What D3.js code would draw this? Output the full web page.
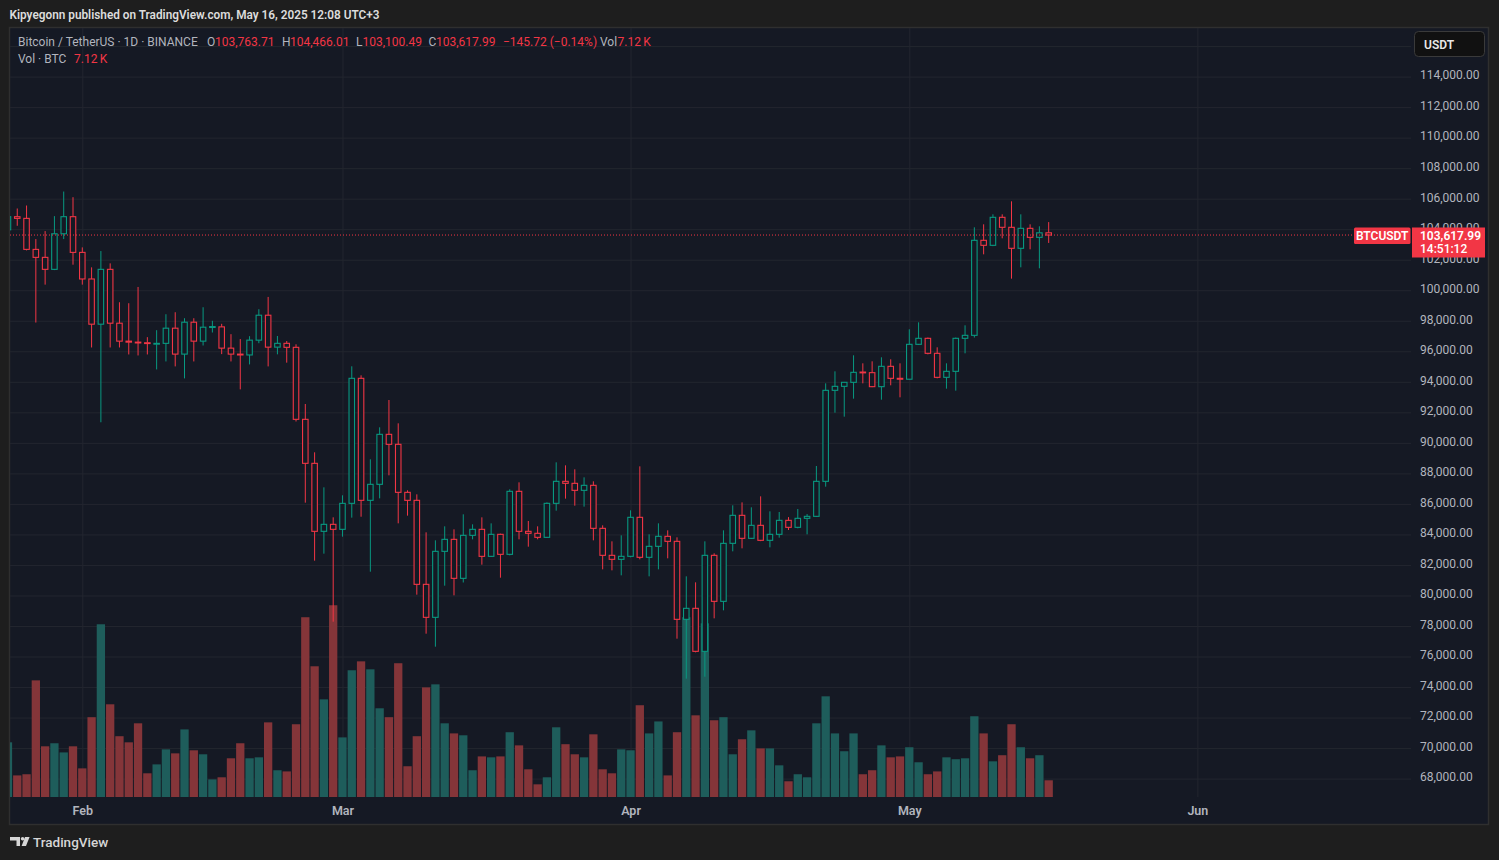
<!DOCTYPE html>
<html>
<head>
<meta charset="utf-8">
<title>BTCUSDT 1D</title>
<script src="https://cdnjs.cloudflare.com/ajax/libs/d3/7.8.5/d3.min.js"></script>
<style>
  html, body { margin: 0; padding: 0; background: #1e1e1e; overflow: hidden; }
  svg { display: block; font-family: Roboto, "Liberation Sans", sans-serif; }
</style>
</head>
<body>
<svg id="chart" width="1499" height="860"></svg>
<script>
// BINANCE BTCUSDT daily candles, Jan 24 - May 16 2025
var dates = d3.utcDay.range(new Date(Date.UTC(2025, 0, 24)), new Date(Date.UTC(2025, 4, 17)));

var open = [
  103960, 104820, 104710, 102678, 102155, 101370, 103700, 104820,
  102481, 100739, 97776, 101370, 97841, 96665, 96600, 96560, 96470, 96520, 97514, 95815, 97906, 96665,
  97560, 97600, 96207, 95815, 95760, 96730, 98364, 96272, 96522, 96260, 91542, 88659, 84203, 84661,
  84334, 86037, 94229, 86234, 87283, 90559, 89904, 86758, 86234, 80729, 78567, 82892, 83678, 81123,
  83940, 84334, 82564, 84006, 82695, 86824, 84203, 84072, 83809, 86037, 87479, 87348, 86889, 87217,
  84399, 82630, 82368,
  82565, 85120, 82500, 83220, 83875, 83547, 78436, 79157, 76339, 82630, 79615, 83416, 85251, 83744,
  84596, 83613, 84006, 84923, 84465, 85055, 85185, 87479, 93442, 93704, 93967, 94640, 94600, 93682,
  95015, 94229,
  94170, 96457, 96850, 95867, 94294, 94687, 96850, 97046, 103272, 102944, 104779, 104124, 102748,
  104058, 103468, 103763.71
];
var high = [
  105200, 105357, 105553, 103353, 103876, 104856, 106468, 106098,
  102808, 101501, 102569, 101763, 99214, 99150, 100216, 96926, 97383, 98429, 98560, 98167, 98167, 98887,
  98000, 97800, 97122, 96800, 96990, 98756, 99562, 97003, 96675, 96458, 92547, 89380, 87086, 85120,
  86562, 95015, 94425, 88921, 91018, 92809, 91280, 86889, 86627, 84137, 83613, 84530, 84334, 85317,
  84661, 85120, 84726, 84050, 86955, 87413, 84880, 84530, 86100, 88724, 88527, 88266, 87741, 87479,
  84596, 83547, 83940,
  85579, 88462, 84006, 84727, 84268, 83809, 81254, 80861, 83547, 82762, 84268, 85906, 86100, 85775,
  86496, 85513, 85469, 85135, 85666, 85330, 88484, 93901, 94687, 93990, 95736, 95212, 95343, 95605,
  95474, 95212,
  97440, 97898, 96900, 96260, 95212, 96900, 97702, 104124, 104320, 104975, 104975, 105827, 104975,
  104320, 104190, 104466.01
];
var low = [
  103300, 104224, 102610, 97884, 100368, 101320, 103353, 101675,
  100368, 96250, 91349, 96250, 96250, 95793, 95727, 95793, 94812, 95335, 95009, 94224, 95335, 96381,
  97230, 95815, 95335, 93505, 95140, 96530, 95009, 95801, 95255, 91400, 86081, 82280, 82739, 78283,
  83853, 85098, 85160, 81559, 86365, 87872, 84727, 85229, 80052, 77496, 76644, 80642, 80009, 80850,
  83678, 82018, 82520, 81166, 82630, 83678, 83197, 83678, 83780, 85557, 86343, 85884, 85819, 83613,
  81712, 81646, 81319,
  82500, 82368, 81254, 81712, 82433, 77169, 74548, 76274, 74678, 78502, 79026, 82892, 83089, 83700,
  83560, 83154, 83788, 84290, 84400, 84006, 85150, 87129, 91979, 91716, 92896, 93901, 93650, 92830,
  93770, 92984,
  94150, 96414, 95800, 94229, 93551, 93420, 95867, 96900, 102354, 102890, 103403, 100760, 101503,
  102682, 101438, 103100.49
];
var close = [
  104820, 104710, 102678, 102155, 101370, 103700, 104820, 102481,
  100739, 97776, 101370, 97841, 96665, 96600, 96560, 96520, 96520, 97514, 95815, 97906, 96665, 97579,
  97620, 96207, 95815, 95760, 96730, 98364, 96272, 96522, 96260, 91542, 88659, 84203, 84661, 84334,
  86037, 94229, 86234, 87283, 90559, 89904, 86758, 86234, 80729, 78567, 82892, 83678, 81123, 83940,
  84334, 82564, 84006, 82695, 86824, 84203, 84072, 83809, 86037, 87479, 87348, 86889, 87217, 84399,
  82630, 82368, 82565,
  85120, 82500, 83220, 83875, 83547, 78436, 79157, 76339, 82630, 79615, 83416, 85251, 83744, 84596,
  83613, 84006, 84923, 84465, 85055, 85185, 87479, 93442, 93704, 93967, 94622, 94600, 93682, 95015,
  94229, 94170,
  96457, 96850, 95867, 94294, 94687, 96850, 97046, 103272, 102944, 104779, 104124, 102748, 104058,
  103468, 103763.71, 103617.99
];
// volume in thousand BTC
var volume = [
  23.3, 9.2, 9.7, 49.7, 21.6, 22.9, 19.0, 21.6,
  12.2, 34.0, 73.6, 39.5, 25.9, 23.3, 31.4, 10.1, 13.9, 20.3, 18.6, 28.8, 19.9, 18.2, 7.5, 8.4,
  16.5, 22.9, 16.5, 16.9, 31.8, 11.4, 10.9, 31.0, 76.6, 55.7, 41.6, 81.7,
  25.4, 54.0, 57.8, 54.4, 37.8, 34.0, 57.0, 13.1, 25.9, 46.7, 48.0, 31.4, 27.1, 26.3, 11.4, 17.3,
  16.9, 17.3, 27.6, 22.0, 11.8, 5.4, 8.4, 29.7, 22.5, 18.2, 16.9, 26.7, 11.8, 10.1, 20.3,
  19.9, 39.1, 27.1, 32.2, 9.2, 27.6, 76.6, 34.8, 74.0, 32.7, 34.0, 18.2, 24.6, 28.4, 20.7, 20.7,
  13.5, 6.7, 9.7, 8.4, 31.4, 42.9, 27.1, 19.5, 27.1, 9.7, 11.4, 22.0, 16.9, 17.3,
  21.2, 14.8, 9.7, 10.9, 16.9, 16.1, 16.5, 34.4, 27.1, 15.2, 17.8, 31.0, 21.2, 16.5, 17.8, 7.12
];

// grid levels; the top one sits under the currency box and gets no label
var gridTicks = [68000, 70000, 72000, 74000, 76000, 78000, 80000, 82000, 84000, 86000, 88000, 90000,
  92000, 94000, 96000, 98000, 100000, 102000, 104000, 106000, 108000, 110000, 112000, 114000, 116000];
var priceLabels = [68000, 70000, 72000, 74000, 76000, 78000, 80000, 82000, 84000, 86000, 88000, 90000,
  92000, 94000, 96000, 98000, 100000, 102000, 104000, 106000, 108000, 110000, 112000, 114000];
var monthTicks = [new Date(Date.UTC(2025, 1, 1)), new Date(Date.UTC(2025, 2, 1)), new Date(Date.UTC(2025, 3, 1)),
  new Date(Date.UTC(2025, 4, 1)), new Date(Date.UTC(2025, 5, 1))];
var lastPrice = 103617.99;

var UP = "#089981", DOWN = "#f23645";
var VOL_UP = "#1e5d5b", VOL_DOWN = "#843539";
var BG = "#151924", GRID = "#23262f", TXT = "#b2b5be";

var svg = d3.select("#chart");
var plot = { left: 10, right: 1411, top: 28, bottom: 797 };

var candles = dates.map(function (d, i) {
  return { date: d, o: open[i], h: high[i], l: low[i], c: close[i], v: volume[i] };
});

// scales
var x = d3.scaleUtc().domain([monthTicks[0], monthTicks[3]]).range([82.3, 909.3]);
var y = d3.scaleLinear().domain([68000, 114000]).range([778.6, 76.6]);
var yVol = d3.scaleLinear().domain([0, 100]).range([plot.bottom, plot.bottom - 234.7]);

// frame
svg.append("rect").attr("width", 1499).attr("height", 860).attr("fill", "#1e1e1e");
svg.append("rect").attr("x", 9.5).attr("y", 27.5).attr("width", 1479).attr("height", 797)
  .attr("fill", BG).attr("stroke", "#2f2f2f").attr("stroke-width", 1.5);

svg.append("defs").append("clipPath").attr("id", "plotClip").append("rect")
  .attr("x", plot.left).attr("y", plot.top)
  .attr("width", plot.right - plot.left).attr("height", plot.bottom - plot.top);

var plotG = svg.append("g").attr("clip-path", "url(#plotClip)");

// grid
plotG.append("g").attr("transform", "translate(" + plot.right + ",0)")
  .call(d3.axisLeft(y).tickValues(gridTicks).tickSize(plot.right - plot.left).tickFormat(""))
  .call(function (g) { g.select(".domain").remove(); })
  .selectAll("line").attr("stroke", GRID);
plotG.append("g").attr("transform", "translate(0," + plot.top + ")")
  .call(d3.axisBottom(x).tickValues(monthTicks).tickSize(plot.bottom - plot.top).tickFormat(""))
  .call(function (g) { g.select(".domain").remove(); })
  .selectAll("line").attr("stroke", GRID);

// volume
plotG.append("g").selectAll("rect").data(candles).enter().append("rect")
  .attr("x", function (d) { return x(d.date) - 4.15; })
  .attr("width", 8.3)
  .attr("y", function (d) { return yVol(d.v); })
  .attr("height", function (d) { return plot.bottom - yVol(d.v); })
  .attr("fill", function (d) { return d.c >= d.o ? VOL_UP : VOL_DOWN; });

// candles
var cg = plotG.append("g").selectAll("g").data(candles).enter().append("g");
cg.append("line")
  .attr("x1", function (d) { return x(d.date); })
  .attr("x2", function (d) { return x(d.date); })
  .attr("y1", function (d) { return y(d.h); })
  .attr("y2", function (d) { return y(d.l); })
  .attr("stroke", function (d) { return d.c >= d.o ? UP : DOWN; })
  .attr("stroke-width", 1);
cg.append("rect")
  .attr("x", function (d) { return x(d.date) - 2.75; })
  .attr("width", 5.5)
  .attr("y", function (d) { return y(Math.max(d.o, d.c)); })
  .attr("height", function (d) { return Math.max(Math.abs(y(d.o) - y(d.c)), 0.8); })
  .attr("fill", BG)
  .attr("stroke", function (d) { return d.c >= d.o ? UP : DOWN; })
  .attr("stroke-width", 1.1);

// last price line
plotG.append("line")
  .attr("x1", plot.left).attr("x2", plot.right)
  .attr("y1", y(lastPrice)).attr("y2", y(lastPrice))
  .attr("stroke", DOWN).attr("stroke-dasharray", "1,2");

// price axis
svg.append("g").attr("transform", "translate(1420,-1.5)")
  .call(d3.axisRight(y).tickValues(priceLabels).tickSize(0).tickPadding(0).tickFormat(d3.format(",.2f")))
  .call(function (g) { g.select(".domain").remove(); })
  .attr("font-family", null).attr("font-size", 12)
  .selectAll("text").attr("fill", TXT);

// time axis
svg.append("g").attr("transform", "translate(0," + plot.bottom + ")")
  .call(d3.axisBottom(x).tickValues(monthTicks).tickSize(0).tickPadding(9).tickFormat(d3.utcFormat("%b")))
  .call(function (g) { g.select(".domain").remove(); })
  .attr("font-family", null).attr("font-size", 12.5).attr("font-weight", 600)
  .selectAll("text").attr("fill", TXT);

// currency box
svg.append("rect").attr("x", 1414.5).attr("y", 31.5).attr("width", 70).attr("height", 25).attr("rx", 4)
  .attr("fill", "#111111").attr("stroke", "#3a3a3a");
svg.append("text").attr("x", 1424).attr("y", 48.5).attr("fill", "#e8e8e8")
  .attr("font-size", 12).attr("font-weight", 600).text("USDT");

// last price labels
svg.append("rect").attr("x", 1354).attr("y", 227.5).attr("width", 56.5).attr("height", 16.5).attr("rx", 1.5)
  .attr("fill", DOWN);
svg.append("text").attr("x", 1382.2).attr("y", 240).attr("text-anchor", "middle").attr("fill", "#fff")
  .attr("font-size", 12).attr("font-weight", 600).text("BTCUSDT");
svg.append("rect").attr("x", 1412).attr("y", 227.5).attr("width", 73).attr("height", 30).attr("fill", DOWN);
svg.append("text").attr("x", 1420).attr("y", 239.5).attr("fill", "#fff")
  .attr("font-size", 12).attr("font-weight", 600).text(d3.format(",.2f")(lastPrice));
svg.append("text").attr("x", 1420).attr("y", 253).attr("fill", "#fff")
  .attr("font-size", 12).attr("font-weight", 500).text("14:51:12");

// publish line
svg.append("text").attr("x", 9.5).attr("y", 18.5).attr("fill", "#dcdcdc")
  .attr("font-size", 12).attr("font-weight", 600)
  .attr("textLength", 370).attr("lengthAdjust", "spacingAndGlyphs")
  .text("Kipyegonn published on TradingView.com, May 16, 2025 12:08 UTC+3");

// legend
var fmt = d3.format(",.2f");
var legend1 = [
  { x: 18, t: "Bitcoin / TetherUS \u00b7 1D \u00b7 BINANCE", c: TXT },
  { x: 207, t: "O", c: TXT }, { x: 215, t: fmt(open[open.length - 1]), c: DOWN },
  { x: 282, t: "H", c: TXT }, { x: 290, t: fmt(high[high.length - 1]), c: DOWN },
  { x: 356, t: "L", c: TXT }, { x: 362.5, t: fmt(low[low.length - 1]), c: DOWN },
  { x: 428.5, t: "C", c: TXT }, { x: 436, t: fmt(lastPrice), c: DOWN },
  { x: 503, t: "\u2212145.72 (\u22120.14%)", c: DOWN },
  { x: 600, t: "Vol", c: TXT }, { x: 617.5, t: "7.12\u2009K", c: DOWN }
];
svg.append("g").selectAll("text").data(legend1).enter().append("text")
  .attr("x", function (d) { return d.x; }).attr("y", 45.5)
  .attr("font-size", 12).attr("fill", function (d) { return d.c; })
  .text(function (d) { return d.t; });
var legend2 = [
  { x: 18, t: "Vol \u00b7 BTC", c: TXT },
  { x: 74, t: "7.12\u2009K", c: DOWN }
];
svg.append("g").selectAll("text").data(legend2).enter().append("text")
  .attr("x", function (d) { return d.x; }).attr("y", 62.5)
  .attr("font-size", 12).attr("fill", function (d) { return d.c; })
  .text(function (d) { return d.t; });

// footer logo
var logo = svg.append("g").attr("fill", "#d6d6d6");
logo.append("path").attr("d", "M10,837 H20 V846 H16.5 V840.5 H10 Z");
logo.append("circle").attr("cx", 22.6).attr("cy", 838.8).attr("r", 1.8);
logo.append("path").attr("d", "M25,837 H29.6 L26,846 H21.6 Z");
svg.append("text").attr("x", 33).attr("y", 846.5).attr("fill", "#d6d6d6")
  .attr("font-size", 13.5).attr("font-weight", 500).text("TradingView");
</script>
</body>
</html>
